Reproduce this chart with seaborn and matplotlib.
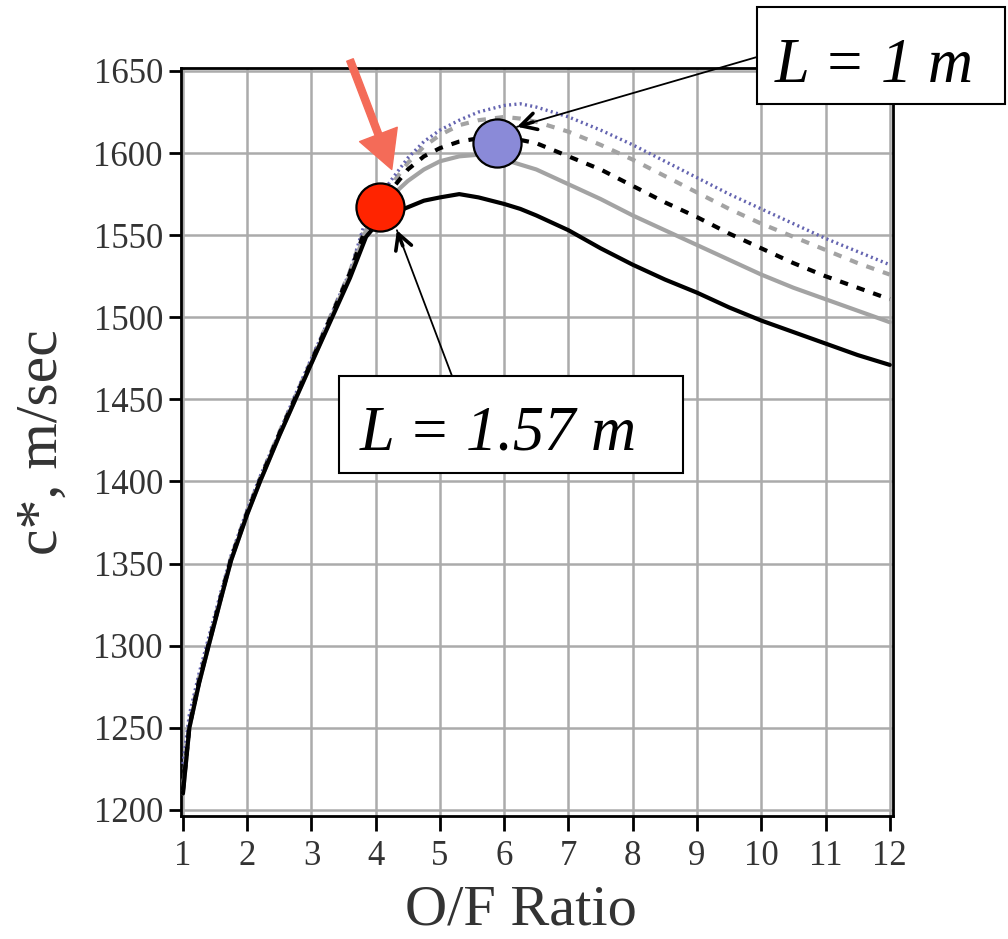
import matplotlib
matplotlib.use("Agg")
import matplotlib.pyplot as plt
import seaborn as sns
import pandas as pd
from matplotlib.patches import Rectangle

# O/F ratio sample points shared by all curves
of_ratio = [1.0, 1.1, 1.25, 1.4, 1.6, 1.75, 2.0, 2.2, 2.5, 2.75, 3.0, 3.3, 3.6, 3.85,
            4.0, 4.25, 4.5, 4.75, 5.0, 5.3, 5.6, 6.0, 6.25, 6.5, 7.0, 7.5, 8.0, 8.5, 9.0,
            9.5, 10.0, 10.5, 11.0, 11.5, 12.0]

# characteristic velocity c* (m/s) for each curve
cstar_black_solid = [1210, 1250, 1277, 1300, 1330, 1352, 1380, 1400, 1428, 1450, 1472, 1498,
                     1524, 1549, 1556, 1563, 1567, 1571, 1573, 1575, 1573, 1569, 1566, 1562,
                     1553, 1542, 1532, 1523, 1515, 1506, 1498, 1491, 1484, 1477, 1471]
cstar_gray_solid = [1210, 1250, 1277, 1300, 1330, 1352, 1380, 1400, 1428, 1450, 1472, 1499,
                    1526, 1553, 1562, 1574, 1583, 1590, 1595, 1598, 1599, 1596, 1593, 1590,
                    1581, 1572, 1562, 1553, 1544, 1535, 1526, 1518, 1511, 1504, 1497]
cstar_black_dashed = [1212, 1251, 1278, 1301, 1331, 1353, 1381, 1401, 1429, 1451, 1473, 1500,
                      1527, 1555, 1565, 1578, 1590, 1598, 1603, 1607, 1609, 1609, 1608, 1606,
                      1598, 1590, 1580, 1570, 1561, 1551, 1542, 1533, 1525, 1518, 1511]
cstar_gray_dashed = [1214, 1253, 1280, 1302, 1332, 1354, 1382, 1402, 1430, 1452, 1474, 1501,
                     1528, 1557, 1567, 1581, 1594, 1604, 1611, 1617, 1620, 1622, 1621, 1619,
                     1613, 1605, 1596, 1586, 1576, 1566, 1557, 1549, 1541, 1533, 1526]
cstar_blue_dotted = [1228, 1258, 1283, 1305, 1334, 1355, 1383, 1403, 1430, 1453, 1475, 1501,
                     1528, 1560, 1570, 1584, 1597, 1607, 1614, 1620, 1625, 1629, 1630, 1628,
                     1622, 1614, 1605, 1595, 1585, 1575, 1566, 1557, 1548, 1540, 1532]

# highlighted operating points
point_of = [4.07, 5.89]
point_cstar = [1567, 1606]
point_colors = ["#ff2400", "#8a8ad8"]

x_ticks = list(range(1, 13))
y_ticks = list(range(1200, 1651, 50))

sns.set_theme(style="white")
plt.rcParams["font.family"] = ["Liberation Serif", "DejaVu Serif"]

fig = plt.figure(figsize=(10.08, 9.39), dpi=100)
W, H = 1008, 939
ax = fig.add_axes([181 / W, 1 - 816 / H, (893 - 181) / W, (816 - 68) / H])

curves = [
    (cstar_gray_dashed, "#a3a3a3", (0, (2.0, 2.2)), 3.0),
    (cstar_blue_dotted, "#6464b0", (0, (0.6, 1.0)), 2.4),
    (cstar_gray_solid, "#a3a3a3", "-", 3.0),
    (cstar_black_dashed, "black", (0, (2.0, 2.2)), 3.0),
    (cstar_black_solid, "black", "-", 3.0),
]
for vals, col, ls, lw in curves:
    df = pd.DataFrame({"of": of_ratio, "cstar": vals})
    sns.lineplot(data=df, x="of", y="cstar", ax=ax, color=col, linestyle=ls,
                 linewidth=lw, zorder=3)

pts = pd.DataFrame({"of": point_of, "cstar": point_cstar, "c": point_colors})
for _, r in pts.iterrows():
    sns.scatterplot(x=[r["of"]], y=[r["cstar"]], ax=ax, s=1200, color=r["c"],
                    edgecolor="black", linewidth=1.6, zorder=6)

ax.set_xlim(0.97, 12.05)
ax.set_ylim(1196.3, 1651.8)
ax.set_xticks(x_ticks)
ax.set_yticks(y_ticks)
ax.grid(True, color="#ababab", linewidth=1.8)
ax.set_axisbelow(True)
for s in ax.spines.values():
    s.set_color("black")
    s.set_linewidth(2.0)
ax.tick_params(axis="y", direction="out", length=9, width=2.0, pad=4,
               labelsize=25, colors="black", left=True)
ax.tick_params(axis="x", direction="out", length=11, width=2.0, pad=6,
               labelsize=25, colors="black", bottom=True)
for lab in ax.get_xticklabels() + ax.get_yticklabels():
    lab.set_color("#333333")

ax.set_xlabel("O/F Ratio", fontsize=42, color="#333333", va="baseline")
ax.xaxis.set_label_coords(0.4775, -0.1457)
ax.set_ylabel("c*, m/sec", fontsize=43, color="#333333")
ax.yaxis.set_label_coords(-0.156, 0.5)

# salmon pointer arrow
ax.annotate("", xy=(4.25, 1590), xycoords="data",
            xytext=(350, H - 60), textcoords="figure pixels",
            arrowprops=dict(arrowstyle="simple,head_length=1.35,head_width=1.45,tail_width=0.25",
                            mutation_scale=20, color="#f46b58", shrinkA=0, shrinkB=0),
            annotation_clip=False, zorder=7)

# label boxes
box_kw = dict(fill=True, facecolor="white", edgecolor="black", linewidth=1.5,
              transform=fig.transFigure, zorder=10)
fig.patches.append(Rectangle((757 / W, 1 - 104 / H), 248 / W, 97 / H, **box_kw))
fig.patches.append(Rectangle((339 / W, 1 - 473 / H), 344 / W, 97 / H, **box_kw))
fig.text(775 / W, 1 - 82 / H, "L = 1 m", fontsize=45, style="italic", color="black",
         ha="left", va="baseline", zorder=11)
fig.text(360 / W, 1 - 450 / H, "L = 1.57 m", fontsize=45, style="italic", color="black",
         ha="left", va="baseline", zorder=11)

# leader lines from the boxes to the points
leaders = [((6.2, 1616), (757, H - 57), (11.5, 3.4)),
           ((4.33, 1553), (452, H - 376), (4.2, -11.2))]
for xy, tail, back in leaders:
    ax.annotate("", xy=xy, xycoords="data", xytext=tail, textcoords="figure pixels",
                arrowprops=dict(arrowstyle="-", lw=1.3, color="black",
                                shrinkA=0, shrinkB=0),
                annotation_clip=False, zorder=8)
    ax.annotate("", xy=xy, xycoords="data", xytext=back, textcoords="offset points",
                arrowprops=dict(arrowstyle="->,head_length=0.55,head_width=0.3",
                                mutation_scale=20, lw=2.6, color="black",
                                shrinkA=0, shrinkB=0),
                annotation_clip=False, zorder=8)

fig.savefig("out.png", dpi=100)
